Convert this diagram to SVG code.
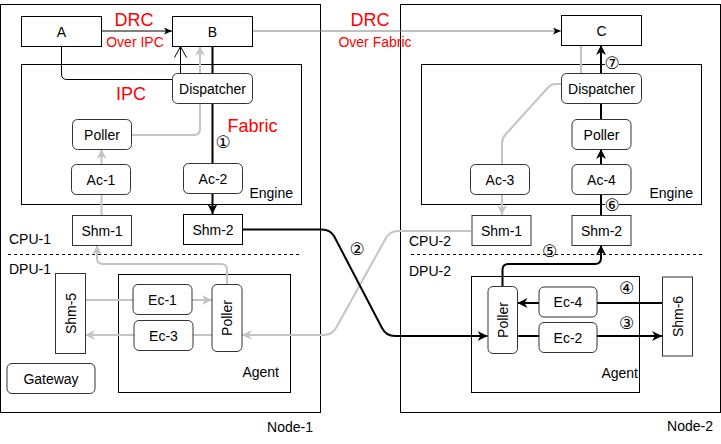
<svg xmlns="http://www.w3.org/2000/svg" width="721" height="444" viewBox="0 0 721 444">
<style>
text{font-family:"Liberation Sans",Arial,sans-serif;font-size:14px;fill:#000}
.c{text-anchor:middle;dominant-baseline:central}
.red{fill:#ff0000;text-anchor:middle}
.big{font-size:18px}
.num{font-family:"DejaVu Sans","Noto Sans CJK SC",sans-serif;font-size:17px;text-anchor:middle;dominant-baseline:central}
.box{fill:#fff;stroke:#000;stroke-width:1}
.rbox{fill:#fff;stroke:#333;stroke-width:1}
.cont{fill:none;stroke:#000;stroke-width:1}
.dash{fill:none;stroke:#000;stroke-width:1;stroke-dasharray:3 3}
.k{fill:none;stroke:#000;stroke-width:2}
.k1{fill:none;stroke:#000;stroke-width:1}
.g{fill:none;stroke:#c4c4c4;stroke-width:2}
.gm{fill:none;stroke:#808080;stroke-width:1}
</style>
<defs>
<marker id="arB" markerUnits="userSpaceOnUse" markerWidth="11" markerHeight="11" refX="10" refY="5" orient="auto" viewBox="0 0 11 10"><path d="M0,0 L10,5 L0,10 L3,5 Z" fill="#000"/></marker>
<marker id="arG" markerUnits="userSpaceOnUse" markerWidth="11" markerHeight="11" refX="10" refY="5" orient="auto" viewBox="0 0 11 10"><path d="M0,0 L10,5 L0,10 L3,5 Z" fill="#c4c4c4"/></marker>
<marker id="arS" markerUnits="userSpaceOnUse" markerWidth="9" markerHeight="8" refX="8" refY="3.5" orient="auto" viewBox="0 0 9 8"><path d="M0,0 L8,3.5 L0,7 L2,3.5 Z" fill="#000"/></marker>
<marker id="arO" markerUnits="userSpaceOnUse" markerWidth="13" markerHeight="14" refX="11.5" refY="6.5" orient="auto" viewBox="0 0 13 14" overflow="visible"><path d="M0.5,0.5 L11.5,6.5 L0.5,12.5" fill="none" stroke="#000" stroke-width="1"/></marker>
</defs>

<g id="containers">
<rect id="node-1" class="cont" x="0.5" y="4.5" width="320" height="408"/>
<text x="313" y="432" text-anchor="end">Node-1</text>
<rect id="node-2" class="cont" x="400.5" y="4.5" width="320" height="408"/>
<text x="713" y="431" text-anchor="end">Node-2</text>
<rect id="engine-1" class="cont" x="21.5" y="64.5" width="280" height="140"/>
<text x="293" y="198" text-anchor="end">Engine</text>
<rect id="engine-2" class="cont" x="421.5" y="64.5" width="280" height="140"/>
<text x="693" y="198" text-anchor="end">Engine</text>
<rect id="agent-1" class="cont" x="118.5" y="274.5" width="172" height="118"/>
<text x="279" y="377" text-anchor="end">Agent</text>
<rect id="agent-2" class="cont" x="471.5" y="276.5" width="168" height="116"/>
<text x="638" y="378" text-anchor="end">Agent</text>
<line class="dash" x1="8" y1="254.5" x2="300" y2="254.5"/>
<line class="dash" x1="411" y1="254.5" x2="703" y2="254.5"/>
<text x="9" y="244">CPU-1</text>
<text x="9" y="274">DPU-1</text>
<text x="409" y="246">CPU-2</text>
<text x="409" y="276">DPU-2</text>
</g>

<g id="connectors">
<line class="k1" x1="101" y1="31" x2="172" y2="31" marker-end="url(#arS)"/>
<line class="gm" x1="252" y1="31" x2="561" y2="31" marker-end="url(#arS)"/>
<path class="k1" d="M61.5,46 L61.5,74 Q61.5,79.5 67,79.5 L172,79.5"/>
<line class="k1" x1="180.5" y1="73" x2="180.5" y2="46.5" marker-end="url(#arO)"/>
<path class="g" d="M131,135 L194,135 Q200,135 200,129 L200,46" marker-end="url(#arG)"/>
<line class="k" x1="212.5" y1="46" x2="212.5" y2="214" marker-end="url(#arB)"/>
<line class="g" x1="101.5" y1="215" x2="101.5" y2="149" marker-end="url(#arG)"/>
<path class="g" d="M227,284 L227,270 Q227,264 221,264 L103,264 Q97,264 97,258 L97,245" marker-end="url(#arG)"/>
<path class="g" d="M85,300 L212,300" marker-end="url(#arG)"/>
<path class="g" d="M212,335 L85,335" marker-end="url(#arG)"/>
<path class="g" d="M471,231 L398,231 Q390,231 386,238 L336,328 Q332,335 324,335 L242,335" marker-end="url(#arG)"/>
<path class="k" d="M242,229.5 L322,229.5 Q330,229.5 334,236 L382,328 Q386,336 395,336 L487.5,336" marker-end="url(#arB)"/>
<path class="k" d="M517,336 L662,336" marker-end="url(#arB)"/>
<path class="k" d="M662,303 L517.5,303" marker-end="url(#arB)"/>
<path class="k" d="M502.5,286 L502.5,270 Q502.5,264 508.5,264 L595,264 Q601,264 601,258 L601,245" marker-end="url(#arB)"/>
<line class="k" x1="601" y1="215" x2="601" y2="149" marker-end="url(#arB)"/>
<line class="k" x1="601" y1="119" x2="601" y2="45" marker-end="url(#arB)"/>
<line class="g" x1="581" y1="45" x2="581" y2="73"/>
<path class="g" d="M561,84 L555,84 Q551,84 548,87.5 L505,135 Q502,138.5 502,144 L502,215" marker-end="url(#arG)"/>
</g>

<g id="n-A"><rect class="box" x="21.5" y="16.5" width="80" height="30"/><text class="c" x="61.5" y="31.5">A</text></g>
<g id="n-B"><rect class="box" x="172.5" y="16.5" width="80" height="30"/><text class="c" x="212.5" y="31.5">B</text></g>
<g id="n-C"><rect class="box" x="561.5" y="15.5" width="80" height="30"/><text class="c" x="601.5" y="30.5">C</text></g>

<g id="n-dispatcher-1"><rect class="rbox" x="172.5" y="73.5" width="80" height="30" rx="5"/><text class="c" x="212.5" y="88.5">Dispatcher</text></g>
<g id="n-poller-1"><rect class="rbox" x="72.5" y="119.5" width="59" height="30" rx="5"/><text class="c" x="102" y="134.5">Poller</text></g>
<g id="n-ac-1"><rect class="rbox" x="71.5" y="164.5" width="59" height="30" rx="5"/><text class="c" x="101" y="179.5">Ac-1</text></g>
<g id="n-ac-2"><rect class="rbox" x="183.5" y="163.5" width="59" height="30" rx="5"/><text class="c" x="213" y="178.5">Ac-2</text></g>
<g id="n-shm-1a"><rect class="rbox" x="72.5" y="215.5" width="59" height="30"/><text class="c" x="102" y="230.5">Shm-1</text></g>
<g id="n-shm-2a"><rect class="box" x="183.5" y="214.5" width="59" height="30"/><text class="c" x="213" y="229.5">Shm-2</text></g>
<g id="n-shm-5"><rect class="rbox" x="55.5" y="273.5" width="30" height="80"/><text class="c" transform="translate(70.5,313.5) rotate(-90)">Shm-5</text></g>
<g id="n-ec-1"><rect class="rbox" x="133" y="284.5" width="59" height="30" rx="5"/><text class="c" x="162.5" y="299.5">Ec-1</text></g>
<g id="n-ec-3"><rect class="rbox" x="134" y="320.5" width="59" height="30" rx="5"/><text class="c" x="163.5" y="335.5">Ec-3</text></g>
<g id="n-poller-a1"><rect class="rbox" x="212" y="284.5" width="30" height="67" rx="5"/><text class="c" transform="translate(227,318) rotate(-90)">Poller</text></g>
<g id="n-gateway"><rect class="rbox" x="7" y="363.5" width="88" height="30" rx="5"/><text class="c" x="51" y="378.5">Gateway</text></g>

<g id="n-dispatcher-2"><rect class="rbox" x="561.5" y="73.5" width="80" height="30" rx="5"/><text class="c" x="601.5" y="88.5">Dispatcher</text></g>
<g id="n-poller-2"><rect class="rbox" x="572" y="119.5" width="59" height="30" rx="5"/><text class="c" x="601.5" y="134.5">Poller</text></g>
<g id="n-ac-3"><rect class="rbox" x="470.5" y="164.5" width="59" height="30" rx="5"/><text class="c" x="500" y="179.5">Ac-3</text></g>
<g id="n-ac-4"><rect class="rbox" x="572" y="164.5" width="59" height="30" rx="5"/><text class="c" x="601.5" y="179.5">Ac-4</text></g>
<g id="n-shm-1b"><rect class="rbox" x="472" y="215.5" width="59" height="30"/><text class="c" x="501.5" y="230.5">Shm-1</text></g>
<g id="n-shm-2b"><rect class="rbox" x="572" y="215.5" width="59" height="30"/><text class="c" x="601.5" y="230.5">Shm-2</text></g>
<g id="n-poller-a2"><rect class="rbox" x="488" y="286.5" width="29.5" height="67" rx="5"/><text class="c" transform="translate(502.5,320) rotate(-90)">Poller</text></g>
<g id="n-ec-4"><rect class="rbox" x="539" y="287" width="58" height="30" rx="5"/><text class="c" x="568" y="302">Ec-4</text></g>
<g id="n-ec-2"><rect class="rbox" x="539" y="322.5" width="58" height="30" rx="5"/><text class="c" x="568" y="337.5">Ec-2</text></g>
<g id="n-shm-6"><rect class="rbox" x="662.5" y="277" width="30" height="79"/><text class="c" transform="translate(677.5,316.5) rotate(-90)">Shm-6</text></g>

<g id="labels">
<text class="red big" x="134" y="26">DRC</text>
<text class="red" x="135" y="47">Over IPC</text>
<text class="red big" x="370" y="26">DRC</text>
<text class="red" x="375" y="47">Over Fabric</text>
<text class="red big" x="131" y="100">IPC</text>
<text class="red big" x="252.5" y="132">Fabric</text>
<text class="num" x="223" y="142">①</text>
<text class="num" x="357" y="248.5">②</text>
<text class="num" x="626.5" y="323">③</text>
<text class="num" x="626.5" y="287.5">④</text>
<text class="num" x="549.5" y="250.5">⑤</text>
<rect x="605" y="198.5" width="14" height="13" fill="#fff"/>
<text class="num" x="612" y="205">⑥</text>
<rect x="605" y="56" width="14" height="13" fill="#fff"/>
<text class="num" x="612" y="62.5">⑦</text>
</g>
</svg>
